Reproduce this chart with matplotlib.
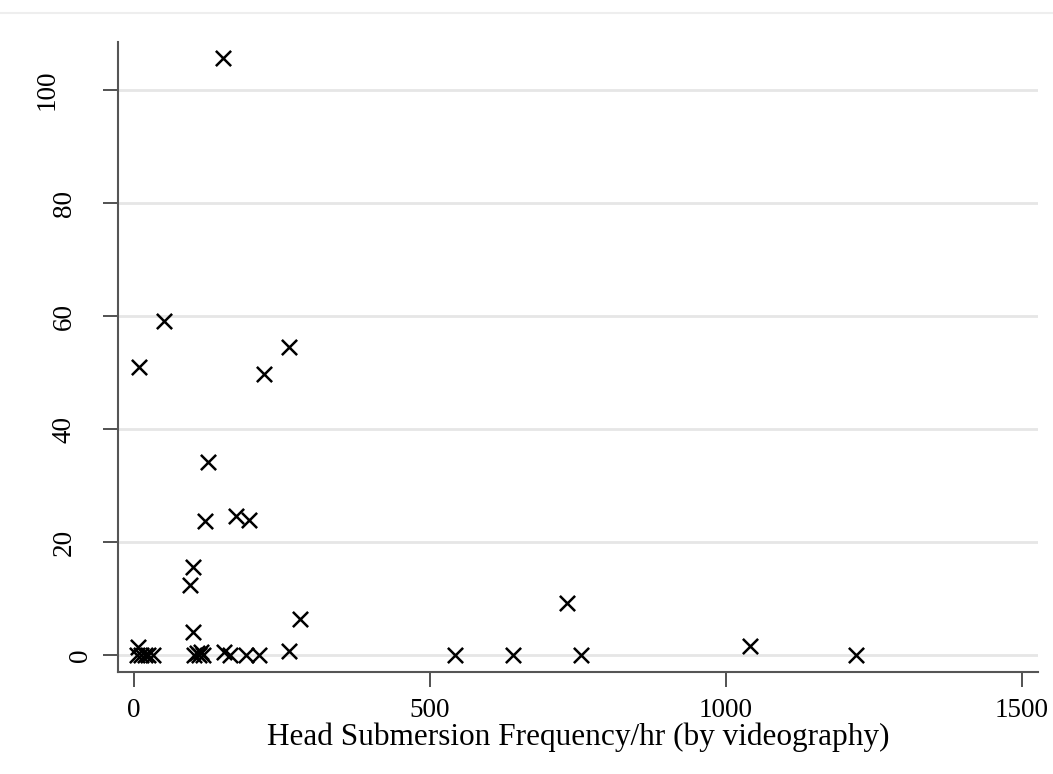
import numpy as np
import matplotlib.pyplot as plt
import matplotlib.transforms as mtransforms
from matplotlib.lines import Line2D

plt.rcParams['font.family'] = ['Liberation Serif', 'DejaVu Serif']

# head submersion frequency / hr (by videography)
freq = [150, 51, 8, 262, 220, 125, 120, 173, 194, 99, 95, 99, 280, 731, 1040,
        262, 7, 5, 12, 18, 24, 32, 101, 106, 110, 113, 117, 152, 162, 189, 211,
        542, 640, 755, 1220]
# y values
vals = [105.7, 59.1, 50.9, 54.6, 49.7, 34.2, 23.8, 24.6, 23.9, 15.6, 12.4, 4.0,
        6.3, 9.3, 1.6, 0.8, 1.4, 0, 0, 0, 0, 0, 0, 0.3, 0, 0.5, 0, 0.6, 0, 0, 0,
        0, 0, 0, 0]

xticks = [0, 500, 1000, 1500]
yticks = [0, 20, 40, 60, 80, 100]

W, H = 1053, 774
fig = plt.figure(figsize=(W / 100, H / 100), dpi=100)
ax = fig.add_axes([118/W, 1 - 672/H, (1038-118)/W, (672-42)/H])

ax.scatter(freq, vals, marker='x', s=120, color='black', linewidths=1.8, zorder=3)

ax.set_xlim(-27, 1527)
ax.set_ylim(-3.0, 108.5)
ax.set_xticks(xticks)
ax.set_yticks(yticks)
ax.set_yticklabels([])
ax.tick_params(axis='both', direction='out', length=10.5, width=1.2, color='#333333',
               labelsize=19.5, pad=8)

# rotated y labels, shifted left by string length like the original
trans = mtransforms.blended_transform_factory(fig.transFigure, ax.transData)
for t in yticks:
    lab = str(t)
    xc = 98 - 17 * len(lab)
    ax.text(xc / W, t, lab, rotation=90, ha='center', va='center',
            fontsize=19.5, transform=trans, clip_on=False)

ax.grid(axis='y', color='#e6e6e6', linewidth=2)
ax.set_axisbelow(True)
for s in ['top', 'right']:
    ax.spines[s].set_visible(False)
for s in ['left', 'bottom']:
    ax.spines[s].set_color('#555555')
    ax.spines[s].set_linewidth(1.5)

ax.set_xlabel('Head Submersion Frequency/hr (by videography)', fontsize=22.5, labelpad=0)

# faint border line of graph region
fig.add_artist(Line2D([0, 1], [1 - 13/H, 1 - 13/H], color='#eeeeee', linewidth=1.5))

fig.savefig('out.png', dpi=100)
